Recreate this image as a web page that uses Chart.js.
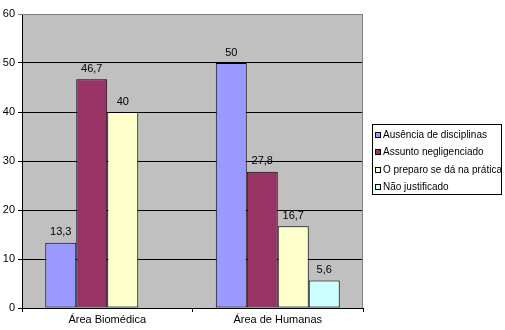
<!DOCTYPE html>
<html>
<head>
<meta charset="utf-8">
<script src="https://cdn.jsdelivr.net/npm/chart.js@4"></script>
<style>
  html, body { margin: 0; padding: 0; background: #fff; }
  #wrap { width: 505px; height: 330px; }
</style>
</head>
<body>
<div id="wrap"><canvas id="grafico"></canvas></div>
<script>
// dados do gráfico
const categorias = ['Área Biomédica', 'Área de Humanas'];
const ausencia = [13.3, 50];
const negligenciado = [46.7, 27.8];
const preparo = [40, 16.7];
const naoJustificado = [null, 5.6];
const yTicks = [0, 10, 20, 30, 40, 50, 60];

const fonte = 'Liberation Sans, Arial, sans-serif';

// fundo cinza e borda da área do gráfico
const fundoPlot = {
  id: 'fundoPlot',
  beforeDraw(chart) {
    const a = chart.chartArea, c = chart.ctx;
    c.save();
    c.fillStyle = '#c0c0c0';
    c.fillRect(a.left, a.top, a.right - a.left, a.bottom - a.top);
    c.restore();
  },
  afterDatasetsDraw(chart) {
    const a = chart.chartArea, c = chart.ctx;
    c.save();
    c.strokeStyle = '#808080';
    c.lineWidth = 1;
    c.beginPath();
    c.moveTo(a.left, a.top + 0.5);
    c.lineTo(a.right - 0.5, a.top + 0.5);
    c.lineTo(a.right - 0.5, a.bottom);
    c.stroke();
    c.restore();
  }
};

// rótulos de valor acima das barras
const rotulos = {
  id: 'rotulos',
  afterDatasetsDraw(chart) {
    const c = chart.ctx;
    c.save();
    c.font = '11px ' + fonte;
    c.fillStyle = '#000';
    c.textAlign = 'center';
    c.textBaseline = 'bottom';
    chart.data.datasets.forEach((ds, i) => {
      chart.getDatasetMeta(i).data.forEach((bar, j) => {
        const v = ds.data[j];
        if (v == null) return;
        c.fillText(String(v).replace('.', ','), bar.x, bar.y - 5);
      });
    });
    c.restore();
  }
};

// legenda com caixa, à direita
const legendaCaixa = {
  id: 'legendaCaixa',
  afterDraw(chart) {
    const c = chart.ctx;
    const x0 = 372, y0 = 124, w = 129, h = 70;
    c.save();
    c.fillStyle = '#fff';
    c.fillRect(x0, y0, w, h);
    c.strokeStyle = '#000';
    c.lineWidth = 1;
    c.strokeRect(x0 + 0.5, y0 + 0.5, w, h);
    c.font = '10px ' + fonte;
    c.textBaseline = 'middle';
    chart.data.datasets.forEach((ds, i) => {
      const yy = y0 + 11 + i * 17.4;
      c.fillStyle = ds.backgroundColor;
      c.fillRect(x0 + 3, Math.round(yy) - 3, 6, 6);
      c.strokeStyle = '#000';
      c.strokeRect(x0 + 3.5, Math.round(yy) - 2.5, 5, 5);
      c.fillStyle = '#000';
      c.fillText(ds.label, x0 + 11, yy);
    });
    c.restore();
  }
};

new Chart(document.getElementById('grafico'), {
  type: 'bar',
  data: {
    labels: categorias,
    datasets: [
      { label: 'Ausência de disciplinas', data: ausencia, backgroundColor: '#9999ff' },
      { label: 'Assunto negligenciado', data: negligenciado, backgroundColor: '#993366' },
      { label: 'O preparo se dá na prática', data: preparo, backgroundColor: '#ffffcc' },
      { label: 'Não justificado', data: naoJustificado, backgroundColor: '#ccffff' }
    ].map(d => Object.assign(d, {
      borderColor: '#000', borderWidth: 1, borderSkipped: false,
      barPercentage: 1, categoryPercentage: 0.727
    }))
  },
  options: {
    responsive: true,
    maintainAspectRatio: false,
    animation: false,
    devicePixelRatio: 1,
    layout: { padding: { top: 14, right: 142, bottom: 0, left: 0 } },
    plugins: {
      legend: { display: false },
      tooltip: { enabled: false }
    },
    scales: {
      x: {
        afterFit(s) { s.height = 22; },
        grid: { offset: true, drawOnChartArea: false, drawTicks: true, tickLength: 4, color: '#000' },
        border: { color: '#000', width: 1 },
        ticks: { color: '#000', font: { family: fonte, size: 11 }, padding: 1 }
      },
      y: {
        min: 0, max: 60,
        afterFit(s) { s.width = 22; },
        afterBuildTicks(s) { s.ticks = yTicks.map(v => ({ value: v })); },
        grid: {
          color: ctx => (ctx.tick && ctx.tick.value === 60) ? '#808080' : '#000',
          tickLength: 4, lineWidth: 1
        },
        border: { color: '#000', width: 1 },
        ticks: { color: '#000', font: { family: fonte, size: 11 }, padding: 3 }
      }
    }
  },
  plugins: [fundoPlot, rotulos, legendaCaixa]
});
</script>
</body>
</html>
